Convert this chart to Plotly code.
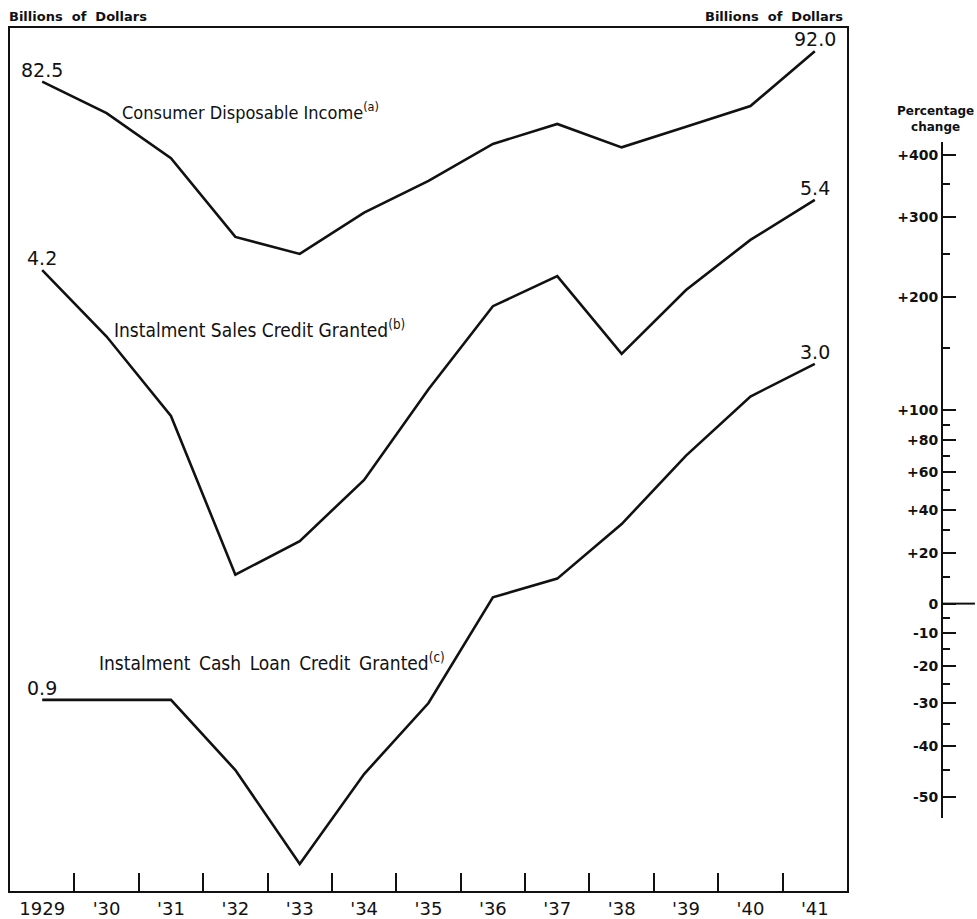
import math
import plotly.graph_objects as go

# ---------------- data ----------------
years = list(range(1929, 1942))
year_labels = ["1929", "'30", "'31", "'32", "'33", "'34", "'35", "'36", "'37", "'38", "'39", "'40", "'41"]

income = [82.5, 73.7, 62.7, 47.3, 44.5, 51.6, 57.8, 66.0, 70.9, 65.2, 70.2, 75.6, 92.0]
sales_credit = [4.2, 3.31, 2.49, 1.41, 1.59, 1.98, 2.74, 3.69, 4.11, 3.11, 3.91, 4.68, 5.4]
cash_credit = [0.9, 0.9, 0.9, 0.70, 0.50, 0.69, 0.89, 1.30, 1.39, 1.69, 2.16, 2.67, 3.0]

pct_major = [400, 300, 200, 100, 80, 60, 40, 20, 0, -10, -20, -30, -40, -50]
pct_labels = ["+400", "+300", "+200", "+100", "+80", "+60", "+40", "+20", "0",
              "-10", "-20", "-30", "-40", "-50"]
pct_minor = [350, 250, 150, 90, 70, 50, 30, 10, -5, -15, -25, -35, -45]

# ---------------- layout constants ----------------
W, H = 977, 919
ML, MR, MT, MB = 10, 0, 28, 26
PW, PH = W - ML - MR, H - MT - MB
PX_PER_DECADE = 644.0
SPAN = PH / PX_PER_DECADE

BLACK = "#111111"
FONT = "DejaVu Sans"
NARROW = "Liberation Sans Narrow, DejaVu Sans Condensed, DejaVu Sans"


def ratio(p):
    return 1 + p / 100.0


fig = go.Figure()

line_style = dict(color=BLACK, width=2.6)
fig.add_trace(go.Scatter(x=years, y=income, mode="lines", line=line_style,
                         xaxis="x", yaxis="y", showlegend=False, hoverinfo="skip"))
fig.add_trace(go.Scatter(x=years, y=sales_credit, mode="lines", line=line_style,
                         xaxis="x", yaxis="y2", showlegend=False, hoverinfo="skip"))
fig.add_trace(go.Scatter(x=years, y=cash_credit, mode="lines", line=line_style,
                         xaxis="x", yaxis="y2", showlegend=False, hoverinfo="skip"))

# zero reference line on the percentage scale
fig.add_trace(go.Scatter(x=[0, 0.94], y=[ratio(0), ratio(0)], mode="lines",
                         line=dict(color=BLACK, width=2),
                         xaxis="x2", yaxis="y3", showlegend=False, hoverinfo="skip"))

main_right = (847 - ML) / PW
right_axis_x = (943 - ML) / PW

fig.update_layout(
    width=W, height=H,
    margin=dict(l=ML, r=MR, t=MT, b=MB, pad=0),
    paper_bgcolor="white", plot_bgcolor="white",
    showlegend=False,
    xaxis=dict(
        domain=[0, main_right], range=[1928.5, 1941.5],
        tickmode="array", tickvals=years, ticktext=year_labels,
        ticks="", showgrid=False, zeroline=False,
        showline=True, mirror=True, linecolor=BLACK, linewidth=2,
        tickfont=dict(family=FONT, size=18, color=BLACK),
        minor=dict(tickmode="array", tickvals=[y + 0.5 for y in years[:-1]],
                   ticks="inside", ticklen=18, tickwidth=1.5, tickcolor=BLACK,
                   showgrid=False),
    ),
    yaxis=dict(
        type="log", domain=[0, 1], range=[2 - SPAN, 2],
        showticklabels=False, ticks="", showgrid=False, zeroline=False,
        showline=True, mirror=True, linecolor=BLACK, linewidth=2,
    ),
    yaxis2=dict(
        type="log", overlaying="y", range=[1 - SPAN, 1],
        showticklabels=False, ticks="", showgrid=False, zeroline=False,
        showline=False,
    ),
    xaxis2=dict(
        domain=[right_axis_x, 1], range=[0, 1], anchor="y3",
        visible=False, showgrid=False, zeroline=False,
    ),
    yaxis3=dict(
        type="log", anchor="x2", side="left",
        domain=[(H - MB - 820) / PH, (H - MB - 142) / PH],
        range=[-0.334, 0.719],
        tickmode="array", tickvals=[ratio(p) for p in pct_major], ticktext=pct_labels,
        ticks="inside", ticklen=13, tickwidth=2, tickcolor=BLACK,
        showline=True, linecolor=BLACK, linewidth=2,
        showgrid=False, zeroline=False,
        tickfont=dict(family=FONT, size=14, color=BLACK, weight="bold"),
        minor=dict(tickmode="array", tickvals=[ratio(p) for p in pct_minor],
                   ticks="inside", ticklen=7, tickwidth=2, tickcolor=BLACK,
                   showgrid=False),
    ),
)

ann = []
val_font = dict(family=FONT, size=19, color=BLACK)

# value labels at the ends of each series
for yr, val, yref in [
    (years[0], income[0], "y"), (years[-1], income[-1], "y"),
    (years[0], sales_credit[0], "y2"), (years[-1], sales_credit[-1], "y2"),
    (years[0], cash_credit[0], "y2"), (years[-1], cash_credit[-1], "y2"),
]:
    ann.append(dict(x=yr, y=math.log10(val), xref="x", yref=yref,
                    text=f"{val:.1f}", showarrow=False, font=val_font,
                    xanchor="center", yanchor="middle", yshift=12))


def py(pix):
    return (H - MB - pix) / PH


def px(pix):
    return (pix - ML) / PW


EN = "\u2002"

# series names
ann.append(dict(x=px(120), y=py(111), xref="paper", yref="paper",
                text="Consumer Disposable Income<sup>(a)</sup>", showarrow=False,
                font=dict(family=NARROW, size=18, color=BLACK),
                xanchor="left", yanchor="middle"))
ann.append(dict(x=px(112), y=py(330), xref="paper", yref="paper",
                text="Instalment Sales Credit Granted<sup>(b)</sup>", showarrow=False,
                font=dict(family=NARROW, size=19, color=BLACK),
                xanchor="left", yanchor="middle"))
ann.append(dict(x=px(97), y=py(663), xref="paper", yref="paper",
                text=EN.join(["Instalment", "Cash", "Loan", "Credit", "Granted"]) + "<sup>(c)</sup>",
                showarrow=False,
                font=dict(family=NARROW, size=19, color=BLACK),
                xanchor="left", yanchor="middle"))

# axis headings
head_font = dict(family=FONT, size=13, color=BLACK, weight="bold")
ann.append(dict(x=px(7), y=py(16), xref="paper", yref="paper",
                text="Billions  of  Dollars", showarrow=False, font=head_font,
                xanchor="left", yanchor="middle"))
ann.append(dict(x=px(845), y=py(16), xref="paper", yref="paper",
                text="Billions  of  Dollars", showarrow=False, font=head_font,
                xanchor="right", yanchor="middle"))
ann.append(dict(x=px(935), y=py(119), xref="paper", yref="paper",
                text="Percentage<br>change", showarrow=False,
                font=dict(family=FONT, size=12, color=BLACK, weight="bold"),
                xanchor="center", yanchor="middle"))

fig.update_layout(annotations=ann)

fig.write_html(
    "out.html",
    config={"displayModeBar": False},
    post_script="document.body.style.margin='0';document.body.style.overflow='hidden';",
)
